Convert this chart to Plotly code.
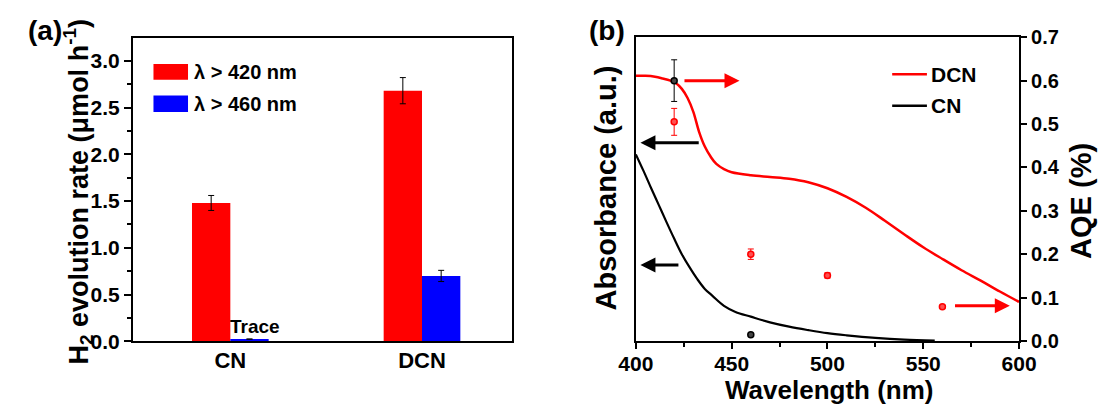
import plotly.graph_objects as go

# ---------------- data ----------------
# panel (a): H2 evolution rate (umol h^-1)
samples = ["CN", "DCN"]
rate_420 = [1.48, 2.68]
err_420 = [0.08, 0.14]
rate_460 = [0.025, 0.70]
err_460 = [0.0, 0.06]

# panel (b): absorbance spectra (a.u., plotted on 0-0.7 scale)
wl_dcn = [400, 405, 410, 414, 418, 421, 424, 427, 430, 433, 436, 439, 442, 446, 450,
          460, 470, 480, 490, 500, 510, 520, 530, 540, 550, 560, 570, 580, 590, 600]
abs_dcn = [0.611, 0.611, 0.609, 0.605, 0.600, 0.594, 0.581, 0.560, 0.528, 0.482, 0.448,
           0.425, 0.408, 0.396, 0.389, 0.382, 0.378, 0.374, 0.366, 0.352, 0.332, 0.307,
           0.277, 0.246, 0.216, 0.189, 0.163, 0.139, 0.114, 0.090]
wl_cn = [400, 404, 408, 412, 416, 420, 424, 428, 432, 436, 440, 446, 452, 460, 470,
         480, 490, 500, 510, 525, 540, 556]
abs_cn = [0.430, 0.392, 0.352, 0.313, 0.274, 0.236, 0.200, 0.170, 0.143, 0.120, 0.104,
          0.081, 0.067, 0.056, 0.043, 0.033, 0.025, 0.018, 0.013, 0.007, 0.003, 0.001]

# AQE (%) points
aqe_wl_dcn = [420, 460, 500, 560]
aqe_dcn = [0.505, 0.200, 0.151, 0.079]
aqe_err_dcn = [0.031, 0.012, 0.006, 0.003]
aqe_wl_cn = [420, 460]
aqe_cn = [0.600, 0.0145]
aqe_err_cn = [0.048, 0.0]

W, H = 1113, 418
RED = "#ff0000"
BLUE = "#0000ff"
FONT = "Arial, Liberation Sans, sans-serif"


def px(x):
    return x / W


def py(y):
    return 1 - y / H


fig = go.Figure()

# ---- panel (a) bars ----
fig.add_trace(go.Bar(
    x=samples, y=rate_420, name="λ > 420 nm", marker=dict(color=RED, line=dict(width=0)),
    error_y=dict(type="data", array=err_420, color="black", thickness=1, width=3),
    xaxis="x", yaxis="y", showlegend=False))
fig.add_trace(go.Bar(
    x=samples, y=rate_460, name="λ > 460 nm", marker=dict(color=BLUE, line=dict(width=0)),
    error_y=dict(type="data", array=err_460, color="black", thickness=1, width=3),
    xaxis="x", yaxis="y", showlegend=False))

# ---- panel (b) curves ----
fig.add_trace(go.Scatter(x=wl_dcn, y=abs_dcn, mode="lines", name="DCN",
                         line=dict(color=RED, width=2.5, shape="spline"),
                         xaxis="x2", yaxis="y2", showlegend=False))
fig.add_trace(go.Scatter(x=wl_cn, y=abs_cn, mode="lines", name="CN",
                         line=dict(color="black", width=2.2, shape="spline"),
                         xaxis="x2", yaxis="y2", showlegend=False))
# AQE points
fig.add_trace(go.Scatter(x=aqe_wl_dcn, y=aqe_dcn, mode="markers", name="AQE DCN",
                         marker=dict(symbol="circle", size=6, color="#ff5050",
                                     line=dict(color=RED, width=1.5)),
                         error_y=dict(type="data", array=aqe_err_dcn, color=RED,
                                      thickness=1, width=3),
                         xaxis="x2", yaxis="y3", showlegend=False))
fig.add_trace(go.Scatter(x=aqe_wl_cn, y=aqe_cn, mode="markers", name="AQE CN",
                         marker=dict(symbol="circle", size=6, color="#444444",
                                     line=dict(color="black", width=1.5)),
                         error_y=dict(type="data", array=aqe_err_cn, color="black",
                                      thickness=1, width=3),
                         xaxis="x2", yaxis="y3", showlegend=False))

tickfont = dict(family=FONT, size=21, color="black", weight="bold")
axis_common = dict(showline=True, linecolor="black", linewidth=2, showgrid=False,
                   zeroline=False, tickcolor="black", tickwidth=2)

fig.update_layout(
    width=W, height=H, margin=dict(l=0, r=0, t=0, b=0),
    paper_bgcolor="white", plot_bgcolor="white",
    barmode="group", bargap=0.6, bargroupgap=0,
    font=dict(family=FONT, color="black"),
    xaxis=dict(domain=[px(118.8), px(511)], anchor="y", range=[-0.508, 1.472],
               mirror=True, ticks="", ticklabelstandoff=-2,
               tickfont=dict(family=FONT, size=22, color="black", weight="bold"),
               **axis_common),
    yaxis=dict(domain=[py(348.8), py(28.3)], anchor="x", range=[0, 3.245], mirror=True,
               ticks="outside", ticklen=7, dtick=0.5, tickformat=".1f",
               minor=dict(dtick=0.25, ticks="outside", ticklen=4, tickcolor="black",
                          tickwidth=2),
               tickfont=tickfont, **axis_common),
    xaxis2=dict(domain=[px(638.5), px(1034.5)], anchor="y2", range=[400, 600], mirror=True,
                ticks="outside", ticklen=6, dtick=50, ticklabelstandoff=-3,
                minor=dict(dtick=25, ticks="outside", ticklen=4, tickcolor="black",
                           tickwidth=2),
                tickfont=tickfont, **axis_common),
    yaxis2=dict(domain=[py(348.3), py(27.7)], anchor="x2", range=[0, 0.7],
                ticks="", showticklabels=False, **axis_common),
    yaxis3=dict(domain=[py(348.3), py(27.7)], anchor="x2", overlaying="y2", side="right",
                range=[0, 0.7], dtick=0.1, tickformat=".1f", ticks="outside", ticklen=6,
                tickfont=dict(family=FONT, size=20, color="black", weight="bold"),
                **axis_common),
)

ann = []
title_font = dict(family=FONT, size=28, color="black", weight="bold")
ann.append(dict(text="(a)", x=px(27.5), y=py(20.5), xref="paper", yref="paper",
                showarrow=False, xanchor="center", yanchor="middle", font=title_font))
ann.append(dict(text="(b)", x=px(609), y=py(20.5), xref="paper", yref="paper",
                showarrow=False, xanchor="center", yanchor="middle", font=title_font))
ann.append(dict(text="H<sub>2</sub> evolution rate (μmol h<sup>-1</sup>)",
                x=px(63), y=py(190.5), xref="paper", yref="paper", textangle=-90,
                showarrow=False, xanchor="center", yanchor="middle",
                font=dict(family=FONT, size=27, color="black", weight="bold")))
ann.append(dict(text="Absorbance (a.u.)", x=px(608), y=py(187), xref="paper", yref="paper",
                textangle=-90, showarrow=False, xanchor="center", yanchor="middle",
                font=dict(family=FONT, size=29, color="black", weight="bold")))
ann.append(dict(text="AQE (%)", x=px(1099), y=py(200), xref="paper", yref="paper",
                textangle=-90, showarrow=False, xanchor="center", yanchor="middle",
                font=dict(family=FONT, size=29, color="black", weight="bold")))
ann.append(dict(text="Wavelength (nm)", x=px(838), y=py(400), xref="paper",
                yref="paper", showarrow=False, xanchor="center", yanchor="middle",
                font=dict(family=FONT, size=26, color="black", weight="bold")))
ann.append(dict(text="Trace", x="CN", y=rate_460[0], xref="x", yref="y",
                xanchor="left", yanchor="bottom", showarrow=False, xshift=-2,
                font=dict(family=FONT, size=19, color="black", weight="bold")))

# legend (a)
leg_font = dict(family=FONT, size=20, color="black", weight="bold")
shapes = []
for (y0, y1, col, lab) in [(56, 72.7, RED, "λ > 420 nm"), (89.3, 106.7, BLUE, "λ > 460 nm")]:
    shapes.append(dict(type="rect", xref="paper", yref="paper", x0=px(140), x1=px(175.7),
                       y0=py(y1), y1=py(y0), fillcolor=col, line=dict(width=0)))
    ann.append(dict(text=lab, x=px(180), y=py((y0 + y1) / 2), xref="paper", yref="paper",
                    xanchor="left", yanchor="middle", showarrow=False, font=leg_font))
# legend (b)
leg_font_b = dict(family=FONT, size=21, color="black", weight="bold")
for (yy, col, lab) in [(66.7, RED, "DCN"), (100, "black", "CN")]:
    shapes.append(dict(type="line", xref="paper", yref="paper", x0=px(903.4), x1=px(939.3),
                       y0=py(yy), y1=py(yy), line=dict(color=col, width=2.5)))
    ann.append(dict(text=lab, x=px(941.5), y=py(yy), xref="paper", yref="paper",
                    xanchor="left", yanchor="middle", showarrow=False, font=leg_font_b))

# arrows (tail -> head) in panel (b) data coordinates
arrows = [
    (424.6, 454.1, 0.600, RED),
    (433.6, 402.4, 0.457, "black"),
    (423.0, 402.4, 0.175, "black"),
    (565.8, 595.2, 0.081, RED),
]
for (xt, xh, yv, col) in arrows:
    ann.append(dict(x=xh, y=yv, ax=xt, ay=yv, xref="x2", yref="y3", axref="x2", ayref="y3",
                    text="", showarrow=True, arrowhead=2, arrowsize=1, arrowwidth=3,
                    arrowcolor=col))

fig.update_layout(annotations=ann, shapes=shapes)
fig.write_html("out.html")
